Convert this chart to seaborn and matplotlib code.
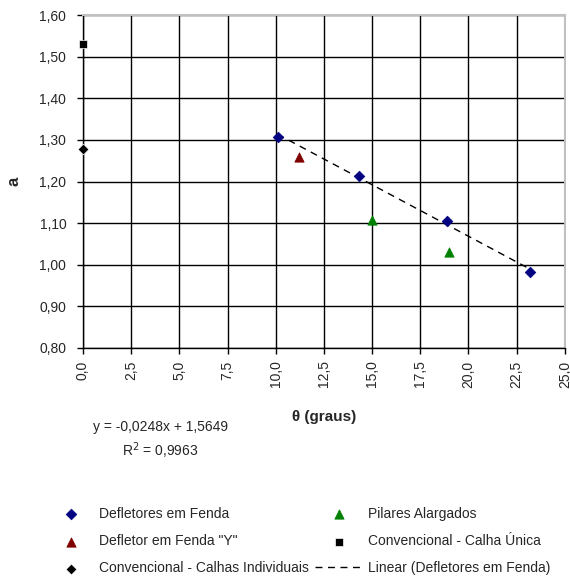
import numpy as np
import matplotlib
matplotlib.use("Agg")
import matplotlib.pyplot as plt
import seaborn as sns
from matplotlib.ticker import FuncFormatter, MultipleLocator

# dados
theta_fenda = [10.1, 14.3, 18.9, 23.2]
a_fenda = [1.308, 1.213, 1.105, 0.982]
theta_y = [11.2]
a_y = [1.258]
theta_pilares = [15.0, 19.0]
a_pilares = [1.108, 1.030]
theta_unica = [0.0]
a_unica = [1.530]
theta_indiv = [0.0]
a_indiv = [1.278]

sns.set_style("white")
plt.rcParams['font.family'] = ['Liberation Sans', 'DejaVu Sans']

fig = plt.figure(figsize=(5.7, 5.79), dpi=100)
ax = fig.add_axes([0.1456, 0.399, 0.8454, 0.575])

sns.regplot(x=theta_fenda, y=a_fenda, scatter=False, ci=None, truncate=True, ax=ax,
            line_kws=dict(color='black', lw=1, ls=(0, (5, 4))),
            label='Linear (Defletores em Fenda)')
sns.scatterplot(x=theta_fenda, y=a_fenda, marker='D', color='#000080', s=30,
                edgecolor='#000080', ax=ax, label='Defletores em Fenda', zorder=3)
sns.scatterplot(x=theta_y, y=a_y, marker='^', color='#800000', s=45,
                edgecolor='#800000', ax=ax, label='Defletor em Fenda "Y"', zorder=3)
sns.scatterplot(x=theta_indiv, y=a_indiv, marker='D', color='black', s=30,
                ax=ax, label='Convencional - Calhas Individuais', zorder=3, clip_on=False)
sns.scatterplot(x=theta_pilares, y=a_pilares, marker='^', color='#008000', s=45,
                edgecolor='#008000', ax=ax, label='Pilares Alargados', zorder=3)
sns.scatterplot(x=theta_unica, y=a_unica, marker='s', color='black', s=35,
                ax=ax, label='Convencional - Calha Única', zorder=3, clip_on=False)

ax.set_xlim(0, 25)
ax.set_ylim(0.8, 1.6)
ax.xaxis.set_major_locator(MultipleLocator(2.5))
ax.yaxis.set_major_locator(MultipleLocator(0.1))
ax.xaxis.set_major_formatter(FuncFormatter(lambda v, p: f"{v:.1f}".replace('.', ',')))
ax.yaxis.set_major_formatter(FuncFormatter(lambda v, p: f"{v:.2f}".replace('.', ',')))
ax.grid(True, color='black', lw=1)
ax.set_axisbelow(True)
ax.tick_params(axis='x', labelrotation=90, labelsize=10, length=4, width=1, color='black',
               direction='out', bottom=True, pad=5)
ax.tick_params(axis='y', labelsize=10, length=4, width=1, color='black',
               direction='out', left=True, pad=8)
for s in ['left', 'bottom']:
    ax.spines[s].set_color('black')
    ax.spines[s].set_linewidth(1)
for s in ['top', 'right']:
    ax.spines[s].set_color('#c0c0c0')
    ax.spines[s].set_linewidth(1.5)

ax.set_xlabel('θ (graus)', fontsize=11, fontweight='bold', labelpad=16)
ax.set_ylabel('a', fontsize=12, fontweight='bold', labelpad=13)

fig.text(0.281, 0.262, 'y = -0,0248x + 1,5649', fontsize=10, ha='center', va='center')
fig.text(0.281, 0.222, 'R$^2$ = 0,9963', fontsize=10, ha='center', va='center')

handles, labels = ax.get_legend_handles_labels()
ax.get_legend().remove()
order = ['Defletores em Fenda', 'Defletor em Fenda "Y"', 'Convencional - Calhas Individuais',
         'Pilares Alargados', 'Convencional - Calha Única', 'Linear (Defletores em Fenda)']
hmap = dict(zip(labels, handles))
fig.legend([hmap[k] for k in order], order, ncol=2, loc='upper left',
           bbox_to_anchor=(0.060, 0.146), frameon=False, fontsize=10,
           handlelength=3.5, columnspacing=0.4, labelspacing=0.95, handletextpad=0.3)

fig.savefig('out.png', dpi=100)
